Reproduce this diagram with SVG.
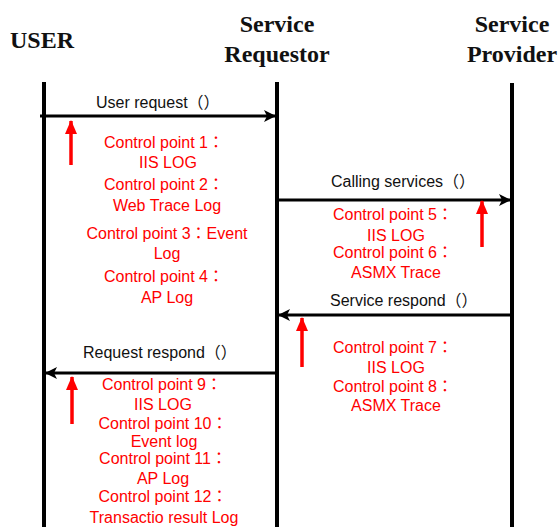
<svg xmlns="http://www.w3.org/2000/svg" width="560" height="527" viewBox="0 0 560 527">
  <style>
    .head { font-family: "Liberation Serif", "Times New Roman", serif; font-weight: bold; font-size: 24px; fill: #111; text-anchor: middle; }
    .msg { font-family: "Liberation Sans", Arial, "Noto Sans CJK TC", sans-serif; font-size: 16px; fill: #111; }
    .cp { font-family: "Liberation Sans", Arial, "Noto Sans CJK TC", sans-serif; font-size: 16px; fill: #ff0000; text-anchor: middle; }
    .life { stroke: #000; stroke-width: 4; fill: none; }
    .call { stroke: #000; stroke-width: 3; fill: none; }
    .mark { stroke: #ff0000; stroke-width: 3.5; fill: none; }
  </style>
  <defs>
    <marker id="arrowBlack" viewBox="0 0 12 12" refX="11" refY="6" markerWidth="12" markerHeight="12" markerUnits="userSpaceOnUse" orient="auto">
      <path d="M0,0 L12,6 L0,12 L3,6 Z" fill="#000"/>
    </marker>
    <marker id="arrowRed" viewBox="0 0 14 12" refX="13" refY="6" markerWidth="14" markerHeight="12" markerUnits="userSpaceOnUse" orient="auto">
      <path d="M0,0 L14,6 L0,12 Z" fill="#ff0000"/>
    </marker>
  </defs>

  <rect width="560" height="527" fill="#fff"/>

  <!-- participants -->
  <g id="user">
    <text class="head" x="42" y="48">USER</text>
    <line class="life" x1="44" y1="82" x2="44" y2="530"/>
  </g>
  <g id="requestor">
    <text class="head" x="277" y="32">Service</text>
    <text class="head" x="277" y="62">Requestor</text>
    <line class="life" x1="277" y1="82" x2="277" y2="530"/>
  </g>
  <g id="provider">
    <text class="head" x="512" y="32">Service</text>
    <text class="head" x="512" y="62">Provider</text>
    <line class="life" x1="512" y1="83" x2="512" y2="530"/>
  </g>

  <!-- messages -->
  <g id="connectors">
    <line class="call" x1="40" y1="116" x2="275" y2="116" marker-end="url(#arrowBlack)"/>
    <line class="call" x1="277" y1="200" x2="510" y2="200" marker-end="url(#arrowBlack)"/>
    <line class="call" x1="512" y1="315" x2="279" y2="315" marker-end="url(#arrowBlack)"/>
    <line class="call" x1="277" y1="373" x2="46" y2="373" marker-end="url(#arrowBlack)"/>
  </g>

  <g id="labels">
    <text class="msg" x="96" y="108">User request（）</text>
    <text class="msg" x="331" y="187">Calling services（）</text>
    <text class="msg" x="330" y="306">Service respond（）</text>
    <text class="msg" x="83" y="358">Request respond（）</text>
  </g>

  <!-- control point markers -->
  <g id="markers">
    <line class="mark" x1="71" y1="165" x2="71" y2="121" marker-end="url(#arrowRed)"/>
    <line class="mark" x1="482" y1="247" x2="482" y2="201" marker-end="url(#arrowRed)"/>
    <line class="mark" x1="302" y1="367" x2="302" y2="318" marker-end="url(#arrowRed)"/>
    <line class="mark" x1="72" y1="424" x2="72" y2="377" marker-end="url(#arrowRed)"/>
  </g>

  <g id="cp-request">
    <text class="cp" x="164" y="148">Control point 1：</text>
    <text class="cp" x="168" y="168">IIS LOG</text>
    <text class="cp" x="164" y="190">Control point 2：</text>
    <text class="cp" x="167" y="211">Web Trace Log</text>
    <text class="cp" x="167" y="239">Control point 3：Event</text>
    <text class="cp" x="167" y="259">Log</text>
    <text class="cp" x="164" y="282">Control point 4：</text>
    <text class="cp" x="167" y="303">AP Log</text>
  </g>
  <g id="cp-calling">
    <text class="cp" x="393" y="220">Control point 5：</text>
    <text class="cp" x="396" y="241">IIS LOG</text>
    <text class="cp" x="393" y="258">Control point 6：</text>
    <text class="cp" x="396" y="278">ASMX Trace</text>
  </g>
  <g id="cp-respond">
    <text class="cp" x="393" y="353">Control point 7：</text>
    <text class="cp" x="396" y="373">IIS LOG</text>
    <text class="cp" x="393" y="392">Control point 8：</text>
    <text class="cp" x="396" y="411">ASMX Trace</text>
  </g>
  <g id="cp-result">
    <text class="cp" x="162" y="390">Control point 9：</text>
    <text class="cp" x="163" y="410">IIS LOG</text>
    <text class="cp" x="163" y="429">Control point 10：</text>
    <text class="cp" x="164" y="447">Event log</text>
    <text class="cp" x="163" y="464">Control point 11：</text>
    <text class="cp" x="163" y="484">AP Log</text>
    <text class="cp" x="163" y="502">Control point 12：</text>
    <text class="cp" x="164" y="523">Transactio result Log</text>
  </g>
</svg>
